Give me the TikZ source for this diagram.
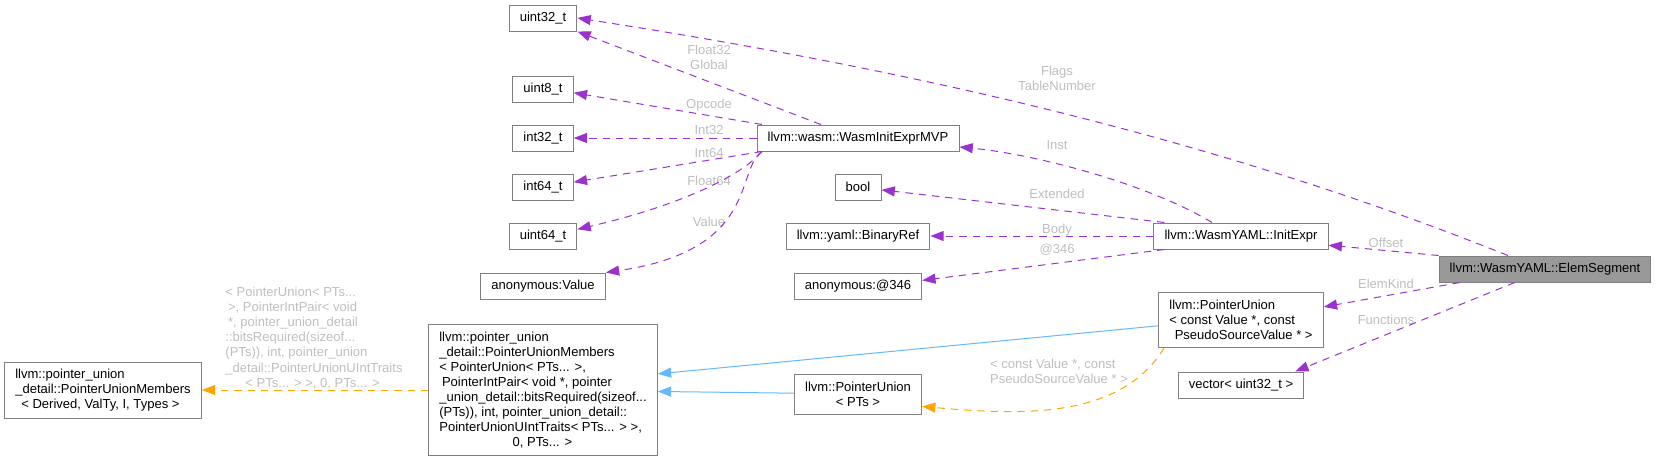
\documentclass[tikz,border=0pt]{standalone}
\usepackage{fontspec}
\setmainfont{Liberation Sans}
\usetikzlibrary{arrows.meta}
\definecolor{edgepurple}{HTML}{9A32CD}
\definecolor{edgeblue}{HTML}{63B8FF}
\definecolor{edgeorange}{HTML}{FFA500}
\definecolor{boxgrey}{HTML}{808080}
\definecolor{labelgrey}{HTML}{BEBEBE}
\definecolor{focusfill}{HTML}{999999}

\begin{document}
\begin{tikzpicture}[x=0.75pt, y=-0.75pt, >={Triangle[length=10pt,width=7.5pt]},
  font={\fontsize{9.78}{11.3}\selectfont}, line width=0.75pt,
  cls/.style={draw=boxgrey, fill=white, inner xsep=8pt, inner ysep=4pt, minimum height=19.5pt},
  multi/.style={cls, align=left},
  lbl/.style={text=labelgrey, inner sep=0pt},
  member/.style={->, edgepurple, dash pattern=on 5.5pt off 4.5pt},
  inherit/.style={->, edgeblue},
  tmpl/.style={->, edgeorange, dash pattern=on 5.5pt off 4.5pt}]
  \useasboundingbox (0,0) rectangle (1658,461);

  \node[cls, fill=focusfill] (elemseg) at (1545,269) {llvm::WasmYAML::ElemSegment};
  \node[cls] (initexpr) at (1241,236) {llvm::WasmYAML::InitExpr};
  \node[multi, minimum height=41.25pt] (puconst) at (1241,320) {llvm::PointerUnion\\< const Value *, const\\\hspace*{4pt}PseudoSourceValue * >};
  \node[cls] (vecu32) at (1241,385) {vector< uint32\_t >};

  \node[cls] (initmvp) at (858,138) {llvm::wasm::WasmInitExprMVP};
  \node[cls] (boolt) at (858,187) {bool};
  \node[cls] (binref) at (858,236) {llvm::yaml::BinaryRef};
  \node[cls] (anon346) at (858,286) {anonymous:@346};
  \node[cls, align=center, minimum height=30pt] (putps) at (858,394) {llvm::PointerUnion\\< PTs >};

  \node[cls] (uint32) at (543,18) {uint32\_t};
  \node[cls] (uint8) at (543,89) {uint8\_t};
  \node[cls] (int32) at (543,138) {int32\_t};
  \node[cls] (int64) at (543,187) {int64\_t};
  \node[cls] (uint64) at (543,236) {uint64\_t};
  \node[cls] (anonval) at (543,286) {anonymous:Value};
  \node[multi, minimum height=98.25pt] (pumbig) at (543,390) {llvm::pointer\_union\\\_detail::PointerUnionMembers\\< PointerUnion< PTs... >,\\\hspace*{2pt}PointerIntPair< void *, pointer\\\_union\_detail::bitsRequired(sizeof...\\(PTs)), int, pointer\_union\_detail::\\PointerUnionUIntTraits< PTs... > >,\\\hspace*{55pt}0, PTs... >};

  \node[multi, minimum height=42pt] (pumgen) at (103,390) {llvm::pointer\_union\\\_detail::PointerUnionMembers\\\hspace*{4.5pt}< Derived, ValTy, I, Types >};

  \node[lbl, align=center] (lblflags) at (1057,78) {Flags\\TableNumber};
  \node[lbl] (lblinst) at (1057,145) {Inst};
  \node[lbl] (lblext) at (1057,194) {Extended};
  \node[lbl] (lblbody) at (1057,230) {Body};
  \node[lbl] (lbl346) at (1057,250) {@346};
  \node[lbl] (lbloffset) at (1386,243) {Offset};
  \node[lbl] (lblelemkind) at (1386,284) {ElemKind};
  \node[lbl] (lblfunc) at (1386,320) {Functions};
  \node[lbl, align=center] (lblfloat32) at (709,57) {Float32\\Global};
  \node[lbl] (lblopcode) at (709,105) {Opcode};
  \node[lbl] (lblint32) at (709,130) {Int32};
  \node[lbl] (lblint64) at (709,153) {Int64};
  \node[lbl] (lblfloat64) at (709,181) {Float64};
  \node[lbl] (lblvalue) at (709,222) {Value};
  \node[lbl, align=left] (lblconstv) at (1059,371) {< const Value *, const\\PseudoSourceValue * >};
  \node[lbl, align=left] (lbltmpl) at (314,338) {< PointerUnion< PTs...\\\hspace*{2pt}>, PointerIntPair< void\\\hspace*{2pt}*, pointer\_union\_detail\\::bitsRequired(sizeof...\\(PTs)), int, pointer\_union\\\_detail::PointerUnionUIntTraits\\\hspace*{15pt}< PTs... > >, 0, PTs... >};

  \draw[member] (elemseg.160) .. controls (1199,132) and (887,66) .. (uint32.east);
  \draw[member] (elemseg.north west) -- (initexpr.-6.4);
  \draw[member] (elemseg.189.2) -- (puconst.9.7);
  \draw[member] (elemseg.204) -- (vecu32.14);

  \draw[member] (initexpr.155.8) .. controls (1150,185) and (1040,155) .. (initmvp.-5);
  \draw[member] (initexpr.170) -- (boolt.-7);
  \draw[member] (initexpr) -- (binref);
  \draw[member] (initexpr.190) -- (anon346.5);

  \draw[member] (initmvp.160) -- (uint32.south east);
  \draw[member] (initmvp.172) -- (uint8.-7.6);
  \draw[member] (initmvp) -- (int32);
  \draw[member] (initmvp.188.6) -- (int64.9.5);
  \draw[member] (initmvp.188.6) .. controls (745,172) and (690,203) .. (uint64.11.6);
  \draw[member] (initmvp.188.6) .. controls (735,170) and (760,250) .. (anonval.north east);

  \draw[inherit] (puconst.184) -- (pumbig.8.4);
  \draw[inherit] (putps) -- (pumbig);
  \draw[tmpl] (puconst.200.4) .. controls (1120,420) and (1020,415) .. (putps.-11.3);
  \draw[tmpl] (pumbig) -- (pumgen);
\end{tikzpicture}
\end{document}
